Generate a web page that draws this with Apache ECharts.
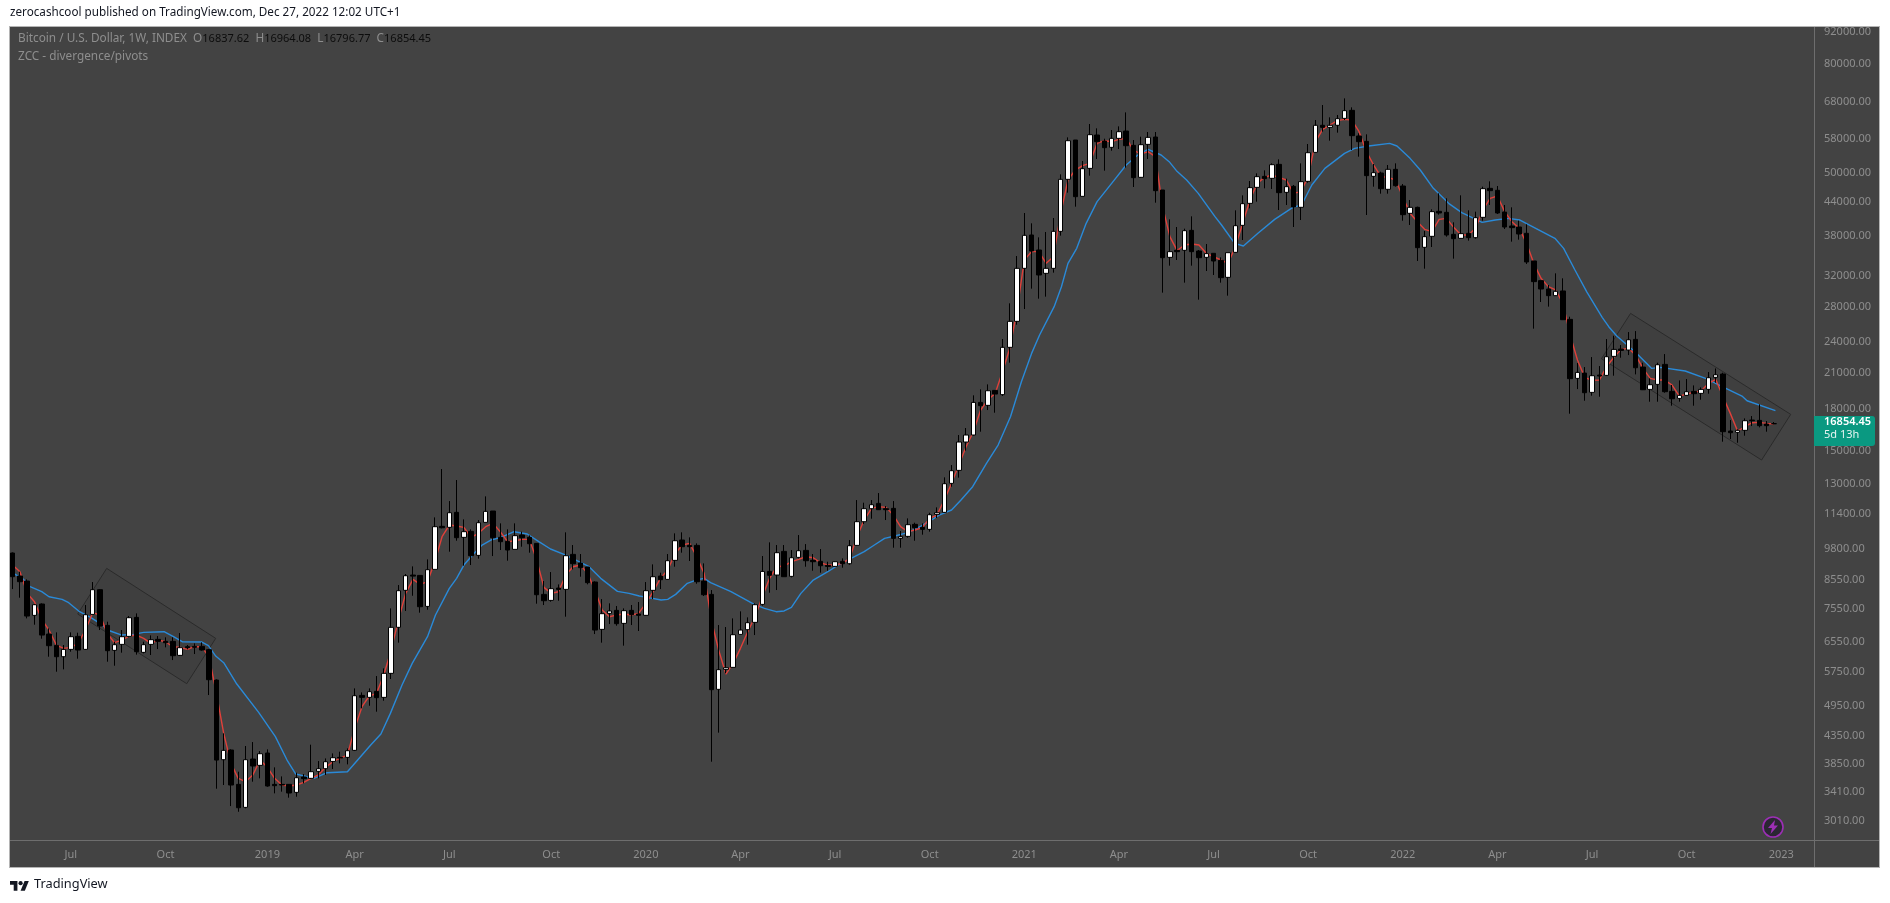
<!DOCTYPE html>
<html><head><meta charset="utf-8">
<style>
html,body{margin:0;padding:0;background:#fff;width:1890px;height:903px;overflow:hidden}
#panel{position:absolute;left:10px;top:27px;width:1869px;height:840px;background:#434343;box-shadow:0 0 0 1px #b4b4b4}
#vline{position:absolute;left:1814px;top:27px;width:1px;height:840px;background:#6e6e6e}
#hline{position:absolute;left:10px;top:840px;width:1869px;height:1px;background:#6e6e6e}
#chart{position:absolute;left:0;top:0;width:1890px;height:903px}
</style>
<script src="https://cdn.jsdelivr.net/npm/echarts@6/dist/echarts.min.js"></script>
</head><body>
<div id="panel"></div><div id="vline"></div><div id="hline"></div>
<div id="chart"></div>
<script>
// Weekly candles: [open, high, low, close]
const candles2018 = [
[9616,9640,8226,8678],[8703,8868,7923,8492],[8516,8578,7244,7318],[7339,7709,7048,7686],[7709,7731,6633,6739],
[6768,6937,6135,6435],[6444,6818,5749,6135],[6135,6454,5808,6333],[6333,6818,6270,6691],[6700,6808,6082,6315],
[6333,7675,6320,7360],[7370,8480,7360,8203],[8203,8226,6887,7007],[7028,7140,6004,6297],[6306,6547,5900,6463],
[6472,6887,6243,6691],[6700,7318,6672,7265],[7276,7403,6190,6270],[6252,6547,6225,6463],[6472,6729,6180,6605],
[6614,6710,6342,6557],[6557,6672,6389,6519],[6557,6672,6047,6162],[6171,6798,6153,6380],[6407,6454,6333,6380],
[6416,6500,6207,6389],[6416,6528,6297,6315],[6324,6342,5196,5553],[5545,5561,3462,3920],[3926,4401,3518,4088],
[4094,4106,3211,3518],[3528,3727,3133,3188],[3193,4166,3180,3926],[3937,4238,3569,3820],[3831,4076,3621,4029]];
const candles2019 = [
[4041,4106,3492,3503],[3528,3798,3393,3508],[3528,3652,3418,3518],[3528,3533,3330,3398],[3408,3711,3344,3631],
[3642,3689,3543,3616],[3621,4190,3610,3727],[3733,3903,3621,3776],[3776,3948,3674,3892],[3897,4035,3770,3960],
[3966,4065,3864,3954],[3966,4124,3847,4082],[4088,5348,4076,5181],[5188,5256,4904,5144],[5144,5348,4960,5272],
[5280,5642,4834,5137],[5144,5833,5070,5708],[5708,7565,5570,6968],[6968,8370,6520,8168],[8180,8780,7480,8715],
[8740,9075,7990,8700],[8727,8727,7425,7620],[7630,9355,7520,8946],[8958,11223,8958,10779],[10795,13838,10700,10730],
[10748,12045,9672,11452],[11470,13195,10143,10277],[10292,11126,9102,10548],[10563,10655,9128,9505],[9519,11094,9383,10967],
[10983,12293,10983,11519],[11536,11536,9491,10277],[10292,10936,9742,10100],[10115,10655,9302,9742],[9770,10936,9770,10367],
[10397,10548,9883,10277],[10292,10380,9630,10011],[10026,10040,7720,8026],[8038,8516,7675,7820],[7831,8855,7787,8238],
[8262,8394,7820,8214],[8214,10518,7297,9505],[9560,9955,8958,9181],[9208,9574,8678,9024],[9050,9050,8395,8456],
[8480,8505,6768,6887],[6907,7876,6520,7393],[7403,7732,7068,7480],[7500,7642,7018,7079],[7089,7565,6436,7490],
[7500,7676,7038,7360],[7382,7776,6858,7340]];
const candles2020 = [
[7340,8480,7330,8168],[8180,9155,7877,8678],[8703,8830,8226,8566],[8578,9574,8566,9302],[9315,10472,9063,10143],
[10173,10518,9630,9883],[9940,10292,9290,9883],[9940,10027,8418,8491],[8516,9194,7981,8026],[8038,8191,3892,5318],
[5326,7038,4414,5800],[5808,6977,5708,5850],[5858,7244,5850,6749],[6758,7468,6750,6887],[6897,7276,6463,7110],
[7120,7731,6739,7686],[7697,9492,7653,8880],[8880,10072,8096,8730],[8741,9955,8191,9630],[9685,9955,8670,8678],
[8691,9741,8652,9423],[9436,10395,9396,9713],[9727,9997,9062,9301],[9315,9574,8906,9261],[9274,9783,8830,9101],
[9114,9261,8906,9075],[9075,9275,9062,9261],[9274,9396,9023,9181],[9181,10172,9141,9926],[9940,12098,9926,11015],
[11015,11960,10905,11653],[11653,12098,11158,11857],[11925,12471,11603,11603],[11653,11789,11094,11603],[11670,12045,9840,10247],
[10247,10578,9840,10322],[10337,11174,10277,10873],[10889,10967,10143,10732],[10748,10936,10412,10655],[10655,11452,10548,11353],
[11370,11721,11190,11452],[11470,13349,11452,12986],[13005,14080,12818,13739],[13759,16037,13330,15558],[15558,16531,14984,16037],
[16037,19047,16000,18475],[18475,19546,16269,18213],[18238,19974,17871,19432],[19460,19489,17666,19154],[19105,24315,18995,23453],
[23453,28382,21945,26250],[26250,34840,25870,33030]];
const candles2021 = [
[33030,41980,27690,38110],[38165,40145,30245,35605],[35760,37780,28960,32090],[32322,38665,29214,33030],[33030,41080,32415,38775],
[38775,49640,38055,48578],[48578,58275,45850,57435],[57603,57603,43150,45059],[45125,52595,45125,50870],[50945,61745,49355,58950],
[58865,60595,53055,57190],[57355,57935,50435,55722],[55803,60156,55000,58020],[58020,61120,55400,59720],[59890,64935,51095,56205],
[56285,57603,46990,48930],[49000,58441,48900,56450],[56530,59640,53055,58270],[58355,59640,43900,46250],[46381,46381,29725,34590],
[34640,40840,33415,35505],[35710,39510,34244,35505],[35710,39225,31040,38885],[38940,41380,33415,35505],[35605,35760,28835,34590],
[34640,36705,32650,35200],[35250,35250,32090,34095],[34195,34640,31040,31720],[31765,35350,29340,35350],[35400,42470,35350,39735],
[39795,45320,37346,43713],[43776,48230,42840,46855],[46920,49857,44095,49141],[49210,50510,46720,48720],[48790,52063,46590,51760],
[51835,52975,42531,45850],[45915,48720,43460,47058],[47125,47400,39510,43090],[43030,52063,40725,48090],[48160,56615,47880,54525],
[54600,62824,54530,61400],[61400,67040,59725,60860],[60860,63555,57440,61400],[61400,64205,59465,63180],[63270,69000,62824,65420],
[65510,66370,55166,58700],[58620,59295,53590,57190],[57270,59040,41620,49360],[49215,51920,47057,50000],[49930,50220,45650,46650],
[46520,51690,45650,50730],[50730,52068,47057,47260]];
const candles2022 = [
[47190,47600,40600,41680],[41925,44417,39857,43025],[43025,43151,34100,36125],[36180,38830,32980,37891],[37945,42655,36230,42230],
[42290,45717,41680,41985],[42105,44740,37891,38165],[38275,40320,34445,37560],[37615,45325,37560,38390],[38443,42470,37240,37725],
[37725,42230,37560,41140],[41200,47057,40610,46650],[46720,48160,43465,46250],[46320,47190,41805,41985],[42165,43465,39170,39510],
[39680,43030,37080,39400],[39510,40610,37400,38330],[38443,39970,33660,33950],[34100,34100,25430,31180],[31315,31315,28545,30200],
[30200,30730,27977,29340],[29340,32321,29300,29900],[29945,31630,26401,26440],[26475,26785,17590,20475],[20500,21909,19570,21040],
[20980,21532,18607,19265],[19293,22486,19015,20738],[20798,21625,18933,20708],[20768,24310,20708,22519],[22552,24665,20738,23246],
[23280,23686,22420,23145],[23179,25057,22680,24240],[24275,25166,20858,21468],[21530,21940,19488,19515],[19545,20500,18528,19944],
[19973,21940,18528,21750],[21782,22780,19265,19350],[19378,19915,18210,18768],[18795,20320,18528,19045],[19045,20440,19015,19350],
[19378,19885,18210,19183],[19210,19715,18688,19545],[19545,21070,19183,20560],[20590,21400,20118,20828],[20888,21010,15580,16270],
[16317,17112,15760,16200],[16222,16435,15510,16365],[16365,17237,15990,17063],[17112,17412,16672,17063],[17088,18317,16577,16700],
[16820,17038,16270,16700],[16837.62,16964.08,16796.77,16854.45]];

// Fast average (red), one reading per candle
const fastAverage = [
9128,8868,8073,7787,7213,6887,6454,6361,6389,6500,6887,7425,7350,6788,6519,6595,6710,6739,6643,6500,
6595,6547,6407,6389,6333,6407,6407,6118,5234,4401,3864,3621,3569,3674,3920,3798,3621,3518,3503,3518,
3559,3621,3674,3798,3892,3954,4006,4497,4940,5174,5234,5667,6315,7192,8073,8578,8394,8492,9261,10322,
10857,10810,10748,10292,10472,10779,10936,10548,10100,10143,10203,10203,9329,8286,8073,8132,8741,9063,9128,8805,
8191,7511,7297,7350,7382,7350,7403,7732,8132,8616,8933,9574,9955,10027,9464,8805,7193,6316,5691,5961,
6362,6838,7297,7958,8616,9063,9089,9261,9356,9464,9423,9220,9128,9128,9194,9396,10322,11094,11670,11755,
11721,11337,10779,10548,10624,10748,11174,11337,12098,13006,14080,15246,16269,17871,18691,19211,21105,23352,27569,34244,
35505,35505,33754,34741,41919,48438,50579,51540,52063,56777,57435,57190,57770,58020,55158,54215,54760,53591,43150,37888,
35660,36545,36705,36545,35250,34741,34244,33754,36282,40145,44414,47742,49000,49500,49000,48438,45717,46050,49141,57190,
60330,61480,62650,63000,62824,59725,54770,51690,49145,49000,48438,45064,41925,40435,39115,38720,40845,41020,39455,38165,
38165,39285,42532,44740,45190,42230,40435,39285,36814,33756,31630,30510,30072,28381,24740,22198,20590,20322,20352,21562,
22455,23246,23347,22680,21405,20500,20352,20352,19915,18988,19155,19293,19432,20059,20410,18933,17615,16317,16624,16916,
16940,16868,16820];

// Slow average (blue): readings as [week index, price]
const slowAverage = [
[0.3,8778],[1.5,8578],[2.4,8310],[4,8132],[5,7957],[6.8,7866],[7.7,7753],[9.2,7457],[10.7,7276],[12,7089],
[13.4,6858],[15,6739],[16.6,6758],[18,6818],[20.8,6838],[22.1,6691],[23.3,6547],[26,6538],[26.9,6435],[27.9,6153],
[29,5978],[30.8,5450],[33.8,4820],[36.1,4338],[37.7,3920],[38.9,3690],[41.4,3621],[43.2,3711],[46,3727],[49.2,4184],
[50.6,4388],[51.9,4799],[53.5,5426],[54.9,5961],[57,6691],[58.1,7350],[60,8250],[61,8616],[62,9128],[63.2,9533],
[64.5,9955],[65.7,10173],[67.1,10292],[68.9,10548],[70.7,10442],[72.3,10100],[73.9,9785],[76,9533],[79.2,9063],[80.8,8616],
[83.1,8144],[84.7,8074],[86.1,7981],[87.2,7935],[89.1,7843],[90,7866],[91.1,8038],[92.7,8432],[93.9,8553],[95,8616],
[95.9,8456],[98.7,8132],[101.9,7698],[103.3,7565],[104.9,7457],[106,7480],[107,7598],[108.3,8074],[110,8553],[112,8868],
[113.4,9128],[115.2,9396],[117,9672],[118.4,9955],[119.8,10247],[121.2,10352],[123,10503],[124.8,10810],[126.2,11094],[127.3,11337],
[129,11587],[130.3,12100],[131.9,12820],[133.8,14184],[135.4,15356],[137.1,17363],[138.6,20207],[140,22845],[141.1,24740],[143.1,27976],
[144.1,30504],[145,33754],[146.2,36020],[147.5,40145],[149,44095],[151,47742],[153,51690],[154.6,53980],[156,55320],[157.8,53980],
[158.9,52445],[159.9,50435],[161.3,48438],[162.9,45717],[165.2,41319],[166.1,39855],[167.9,36811],[169.1,36390],[171.1,38443],[173.4,40845],
[175.9,43025],[177.1,43460],[178.5,47400],[180.3,50950],[183,54372],[184.4,55565],[186.3,56130],[189.2,56783],[190.2,56130],[192,53205],
[193.4,50587],[195.2,46720],[197.3,43778],[199.1,42050],[201.9,40320],[203.7,40727],[205.5,41020],[207.1,40727],[211.9,37618],[213.1,36020],
[214.6,32900],[216.3,29800],[218.4,26710],[219.3,25645],[220.4,24627],[222.9,23012],[225.2,21408],[226.4,21500],[229.8,21164],[232.6,20500],
[234.9,19772],[237.6,18988],[238.3,18607],[242.2,17820]];

// Drawn boxes: corners as [week index, price]
const leftBox = [[12.92,8997],[27.9,6643],[23.92,5458],[8.94,7382]];
const rightBox = [[222.3,27169],[244.3,17538],[240.3,14390],[218.3,22324]];

// Axis labels
const priceTicks = [92000,80000,68000,58000,50000,44000,38000,32000,28000,24000,21000,18000,15000,13000,11400,9800,8550,7550,6550,5750,4950,4350,3850,3410,3010];
const timeTickWeeks = [8,21,35,47,60,74,87,100,113,126,139,152,165,178,191,204,217,230,243];
const timeTickNames = ['Jul','Oct','2019','Apr','Jul','Oct','2020','Apr','Jul','Oct','2021','Apr','Jul','Oct','2022','Apr','Jul','Oct','2023'];
const legendLine = {title:'Bitcoin / U.S. Dollar, 1W, INDEX', o:'16837.62', h:'16964.08', l:'16796.77', c:'16854.45'};
const lastPrice = 16854.45;

const FONT = '"Noto Sans", sans-serif';
const rows = [].concat(candles2018,candles2019,candles2020,candles2021,candles2022);
const WEEKS = 248; // includes empty weeks to the right of the last candle
const start = Date.UTC(2018,4,7);
const categories = Array.from({length:WEEKS},(_,i)=>new Date(start+i*7*864e5).toISOString().slice(0,10));
const tickMap = {}; timeTickWeeks.forEach((w,i)=>tickMap[w]=timeTickNames[i]);

const chart = echarts.init(document.getElementById('chart'),null,{renderer:'canvas'});

function boxSeries(){
  return {
    type:'custom', xAxisIndex:1, yAxisIndex:0, z:1, silent:true, clip:true,
    data:[leftBox[0],rightBox[0]],
    renderItem:function(p,api){
      const box = p.dataIndex===0?leftBox:rightBox;
      return {type:'polygon',shape:{points:box.map(c=>api.coord(c))},
        style:{fill:'rgba(0,0,0,0.06)',stroke:'#2a2a2a',lineWidth:1}};
    }
  };
}

const option = {
  animation:false,
  backgroundColor:'transparent',
  grid:{left:9,right:76,top:27,bottom:63,containLabel:false},
  xAxis:[
    {type:'category',data:categories,boundaryGap:true,
     axisLine:{show:false},axisTick:{show:false},splitLine:{show:false},
     axisLabel:{color:'#8e8e8e',fontFamily:FONT,fontSize:11,margin:9,hideOverlap:false,
       interval:(i)=>tickMap[i]!==undefined,formatter:(v,i)=>tickMap[i]||''}},
    {type:'value',show:false,min:-0.5,max:WEEKS-0.5,splitLine:{show:false}}
  ],
  yAxis:[{type:'log',logBase:10,position:'right',min:2772,max:94016,scale:true,
     axisLine:{show:false},axisTick:{show:false},splitLine:{show:false},minorSplitLine:{show:false},
     axisLabel:{color:'#8e8e8e',fontFamily:FONT,fontSize:11,margin:10,customValues:priceTicks,
       formatter:(v)=>Math.round(v)+'.00'}}],
  series:[
    boxSeries(),
    {type:'line',name:'Slow',xAxisIndex:1,z:2,data:slowAverage,showSymbol:false,symbol:'none',silent:true,
      lineStyle:{color:'#2a8ad8',width:1.4}},
    {type:'line',name:'Fast',xAxisIndex:0,z:2,data:fastAverage,showSymbol:false,symbol:'none',silent:true,
      lineStyle:{color:'#e0403a',width:1.4}},
    {type:'candlestick',xAxisIndex:0,z:3,barWidth:5,silent:true,large:false,
      data:rows.map(r=>[r[0],r[3],r[2],r[1]]),
      itemStyle:{color:'#ffffff',color0:'#000000',borderColor:'#000000',borderColor0:'#000000',borderWidth:1}}
  ]
};
chart.setOption(option);

const tagY = chart.convertToPixel({yAxisIndex:0},lastPrice);
const logoStem = [[0,4],[14,4],[14,22],[7,22],[7,11],[0,11]];
const logoSlash = [[28,22],[20,22],[27.5,4],[35.5,4]];
const bolt = [[8,0],[1,8],[5,8],[3.5,14],[11,5.5],[7,5.5]];
chart.setOption({graphic:[
  {type:'text',left:10,top:7,style:{text:'zerocashcool published on TradingView.com, Dec 27, 2022 12:02 UTC+1',fill:'#131722',font:'11.7px '+FONT}},
  {type:'text',left:18,top:33,style:{
    text:'{g|'+legendLine.title+'  O}{k|'+legendLine.o+'}{g|  H}{k|'+legendLine.h+'}{g|  L}{k|'+legendLine.l+'}{g|  C}{k|'+legendLine.c+'}',
    font:'11.8px '+FONT,
    rich:{g:{fill:'#8e8e8e',font:'11.8px '+FONT},k:{fill:'#0c0c0c',font:'11px '+FONT}}}},
  {type:'text',left:18,top:51,style:{text:'ZCC - divergence/pivots',fill:'#8e8e8e',font:'11.8px '+FONT}},
  {type:'rect',shape:{x:1814,y:tagY-7.5,width:61,height:30,r:[0,3,3,0]},style:{fill:'#0a9981'},z:10},
  {type:'text',x:1824,y:tagY-7,z:11,style:{text:lastPrice.toFixed(2),fill:'#ffffff',font:'600 11px '+FONT}},
  {type:'text',x:1824,y:tagY+6,z:11,style:{text:'5d 13h',fill:'#e6f4f1',font:'11px '+FONT}},
  {type:'circle',shape:{cx:1773,cy:827,r:10},style:{fill:'#2b2733',stroke:'#9c2fb5',lineWidth:1.6},z:10},
  {type:'polygon',x:1767,y:820,z:11,shape:{points:bolt},style:{fill:'#9c2fb5'}},
  {type:'polygon',x:10,y:879,scaleX:0.53,scaleY:0.53,shape:{points:logoStem},style:{fill:'#131722'}},
  {type:'polygon',x:10,y:879,scaleX:0.53,scaleY:0.53,shape:{points:logoSlash},style:{fill:'#131722'}},
  {type:'circle',shape:{cx:20.6,cy:883.2,r:2.1},style:{fill:'#131722'}},
  {type:'text',left:34,top:878,style:{text:'TradingView',fill:'#131722',font:'12.8px '+FONT}}
]});
</script>
</body></html>
